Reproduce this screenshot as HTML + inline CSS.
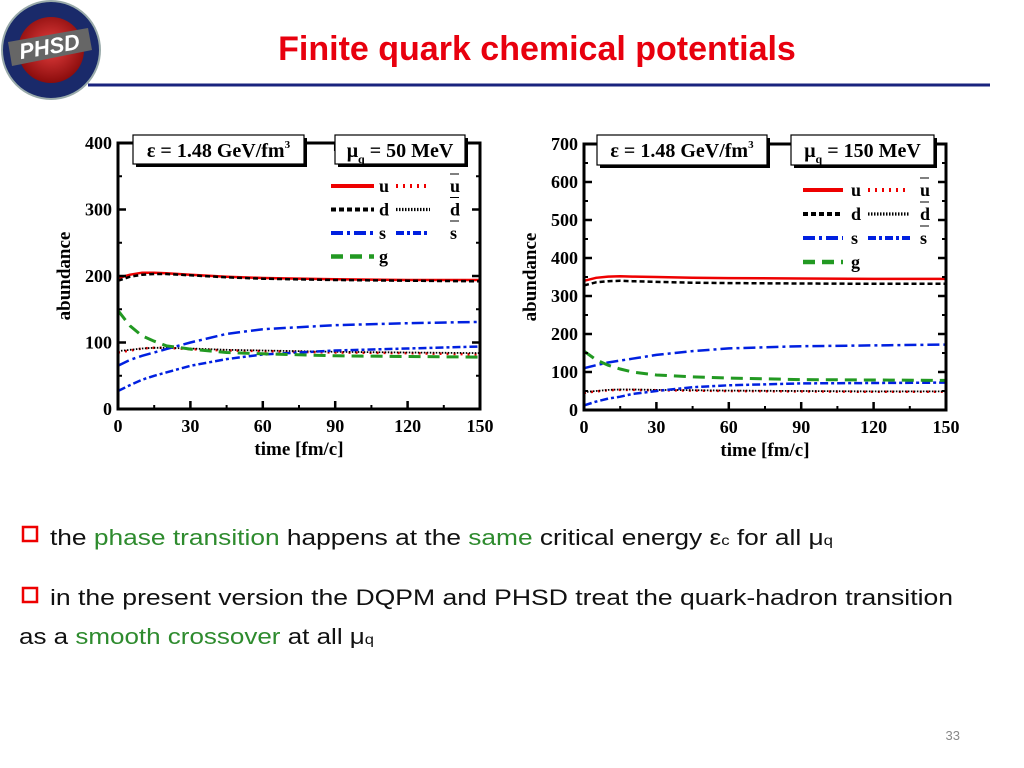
<!DOCTYPE html>
<html><head><meta charset="utf-8"><style>
html,body{margin:0;padding:0;background:#fff;}
svg{display:block;}
.tk{font-family:"Liberation Serif",serif;font-weight:bold;fill:#000;}
.bt{font-family:"Liberation Sans","DejaVu Sans",sans-serif;font-size:22px;fill:#111;}
</style></head><body>
<svg id="page" width="1024" height="768" viewBox="0 0 1024 768" xmlns="http://www.w3.org/2000/svg">
<defs>
<radialGradient id="lg" cx="0.5" cy="0.45" r="0.55"><stop offset="0" stop-color="#e84040"/><stop offset="1" stop-color="#8a0c0c"/></radialGradient>
</defs>
<g>
<circle cx="51" cy="50" r="49" fill="#1a2a6a" stroke="#9aa" stroke-width="2"/>
<circle cx="51" cy="50" r="33" fill="url(#lg)"/>
<polygon points="8,42 88,28 92,50 12,66" fill="#666"/>
<text x="50" y="54" text-anchor="middle" transform="rotate(-10 50 50)" font-family="Liberation Sans,sans-serif" font-weight="bold" font-style="italic" font-size="22" fill="#fff">PHSD</text>
</g>
<text x="537" y="60" text-anchor="middle" font-family="Liberation Sans,sans-serif" font-weight="bold" font-size="34" fill="#e8000e">Finite quark chemical potentials</text>
<line x1="88" y1="85" x2="990" y2="85" stroke="#1a237e" stroke-width="3"/>
<g id="c1"></g>
<g id="c2"></g>
<g>
<rect x="23" y="527" width="14" height="14" fill="#fff" stroke="#e00" stroke-width="2.5"/>
<text class="bt" x="50" y="545" textLength="783" lengthAdjust="spacingAndGlyphs">the <tspan fill="#2e8b2e">phase transition</tspan> happens at the <tspan fill="#2e8b2e">same</tspan> critical energy ε<tspan font-size="14">c</tspan> for all μ<tspan font-size="14">q</tspan></text>
</g>
<g>
<rect x="23" y="588" width="14" height="14" fill="#fff" stroke="#e00" stroke-width="2.5"/>
<text class="bt" x="50" y="605" textLength="903" lengthAdjust="spacingAndGlyphs">in the present version the DQPM and PHSD treat the quark-hadron transition</text>
<text class="bt" x="19" y="644" textLength="355" lengthAdjust="spacingAndGlyphs">as a <tspan fill="#2e8b2e">smooth crossover</tspan> at all μ<tspan font-size="14">q</tspan></text>
</g>
<text x="960" y="740" text-anchor="end" font-family="Liberation Sans,sans-serif" font-size="13" fill="#888">33</text>
</svg>
<script>
const times=[0,5,10,15,20,30,45,60,90,120,150];
const xTicks=[0,30,60,90,120,150];
const yTicks1=[0,100,200,300,400];
const yTicks2=[0,100,200,300,400,500,600,700];
const u1=[197,202,205,205,204,202,199,197,195,194,194];
const d1=[193,199,202,203,203,201,198,196,194,193,192];
const ub1=[85,88,91,92,92,90,88,87,85,84,82];
const db1=[87,89,91,92,92,91,89,88,86,85,84];
const s1=[65,74,80,85,90,100,113,120,126,129,131];
const sb1=[27,36,44,50,55,65,75,82,88,91,94];
const g1=[148,125,110,102,95,90,85,83,80,79,78];
const u2=[340,348,351,352,351,350,348,347,346,345,345];
const d2=[328,336,339,340,339,337,335,334,333,332,332];
const ub2=[45,49,52,53,53,52,51,50,49,48,48];
const db2=[47,50,53,54,54,53,52,51,50,49,49];
const s2=[110,118,125,130,135,145,155,162,168,170,172];
const sb2=[12,22,30,35,42,50,60,65,70,71,72];
const g2=[155,132,118,108,100,92,87,84,80,79,78];
const NS="http://www.w3.org/2000/svg";
function mk(p,tag,at){const e=document.createElementNS(NS,tag);for(const k in at)e.setAttribute(k,at[k]);p.appendChild(e);return e;}
function chart(gid,L,R,T,B,ymax,yTicks,S,box,leg,ylabX){
 const g=document.getElementById(gid);
 const X=v=>L+(R-L)*v/150, Y=v=>B-(B-T)*v/ymax;
 const styles=[
  {n:'u',d:S.u,c:'#e00',w:2.5,da:''},
  {n:'d',d:S.d,c:'#000',w:2.5,da:'5,3'},
  {n:'ubar',d:S.ub,c:'#e00',w:2.5,da:'2,5'},
  {n:'dbar',d:S.db,c:'#000',w:1.8,da:'1.5,1.5'},
  {n:'s',d:S.s,c:'#0020e0',w:2.5,da:'12,4,3,4'},
  {n:'sbar',d:S.sb,c:'#0020e0',w:2.5,da:'8,3,3,3'},
  {n:'g',d:S.g,c:'#229922',w:3,da:'12,7'}];
 for(const st of styles){
  const pts=times.map((t,i)=>X(t).toFixed(1)+','+Y(st.d[i]).toFixed(1)).join(' ');
  const pl=mk(g,'polyline',{points:pts,fill:'none',stroke:st.c,'stroke-width':st.w,'stroke-dasharray':st.da});
  
  
 }
 const fr=mk(g,'rect',{x:L,y:T,width:R-L,height:B-T,fill:'none',stroke:'#000','stroke-width':3});
 
 
 for(const t of xTicks){
  mk(g,'line',{x1:X(t),y1:B,x2:X(t),y2:B-8,stroke:'#000','stroke-width':2.5});
  mk(g,'line',{x1:X(t),y1:T,x2:X(t),y2:T+8,stroke:'#000','stroke-width':2.5});
  const tx=mk(g,'text',{x:X(t),y:B+23,'text-anchor':'middle',class:'tk',style:'font-size:18px'});tx.textContent=t;
  
  
 }
 for(let i=0;i<xTicks.length-1;i++){const m=X((xTicks[i]+xTicks[i+1])/2);
  mk(g,'line',{x1:m,y1:B,x2:m,y2:B-4,stroke:'#000','stroke-width':2});}
 for(const t of yTicks){
  mk(g,'line',{x1:L,y1:Y(t),x2:L+8,y2:Y(t),stroke:'#000','stroke-width':2.5});
  mk(g,'line',{x1:R,y1:Y(t),x2:R-8,y2:Y(t),stroke:'#000','stroke-width':2.5});
  const tx=mk(g,'text',{x:L-6,y:Y(t)+6,'text-anchor':'end',class:'tk',style:'font-size:18px'});tx.textContent=t;
  
  
 }
 for(let i=0;i<yTicks.length-1;i++){const m=Y((yTicks[i]+yTicks[i+1])/2);
  mk(g,'line',{x1:L,y1:m,x2:L+4,y2:m,stroke:'#000','stroke-width':2});
  mk(g,'line',{x1:R,y1:m,x2:R-4,y2:m,stroke:'#000','stroke-width':2});}
 const xt=mk(g,'text',{x:(L+R)/2,y:B+46,'text-anchor':'middle',class:'tk',style:'font-size:19px'});xt.textContent='time [fm/c]';
 
 
 const yt=mk(g,'text',{x:0,y:0,'text-anchor':'middle',class:'tk',style:'font-size:19px',transform:`translate(${ylabX},${(T+B)/2}) rotate(-90)`});yt.textContent='abundance';
 
 
 for(const b of box){
  mk(g,'rect',{x:b.x+3,y:b.y+3,width:b.w,height:b.h,fill:'#000'});
  const r=mk(g,'rect',{x:b.x,y:b.y,width:b.w,height:b.h,fill:'#fff',stroke:'#000','stroke-width':1.2});
  
  
  const tx=mk(g,'text',{x:b.x+b.w/2,y:b.y+22,'text-anchor':'middle',class:'tk',style:'font-size:20px'});
  tx.innerHTML=b.html;
 }
 const rows=[['u','ubar','u'],['d','dbar','d'],['s','sbar','s'],['g',null,'g']];
 rows.forEach((r,i)=>{
  const y=leg.y0+i*leg.dy;
  const a=styles.find(s=>s.n===r[0]);
  mk(g,'line',{x1:leg.x1,y1:y,x2:leg.x2,y2:y,stroke:a.c,'stroke-width':a.w+1.5,'stroke-dasharray':a.da});
  const t1=mk(g,'text',{x:leg.lx,y:y+6,class:'tk',style:'font-size:18px'});t1.textContent=r[2];
  
  
  if(r[1]){const b=styles.find(s=>s.n===r[1]);
   mk(g,'line',{x1:leg.x3,y1:y,x2:leg.x4,y2:y,stroke:b.c,'stroke-width':b.w+1.5,'stroke-dasharray':b.da});
   const t2=mk(g,'text',{x:leg.lx2,y:y+6,class:'tk',style:'font-size:18px'});t2.textContent=r[2];
   
   
   mk(g,'line',{x1:leg.lx2,y1:y-12,x2:leg.lx2+9,y2:y-12,stroke:'#000','stroke-width':1});}
 });
}
chart('c1',118,480,143,409,400,yTicks1,{u:u1,d:d1,ub:ub1,db:db1,s:s1,sb:sb1,g:g1},
 [{x:133,y:135,w:171,h:29,name:'energy-density-box',html:'ε = 1.48 GeV/fm<tspan dy="-9" style="font-size:11px">3</tspan>'},
  {x:335,y:135,w:130,h:29,name:'mu-box',html:'μ<tspan dy="6" style="font-size:12px">q</tspan><tspan dy="-6"> = 50 MeV</tspan>'}],
 {y0:186,dy:23.5,x1:331,x2:374,lx:379,x3:396,x4:430,lx2:450},70);
chart('c2',584,946,144,410,700,yTicks2,{u:u2,d:d2,ub:ub2,db:db2,s:s2,sb:sb2,g:g2},
 [{x:597,y:135,w:170,h:30,name:'energy-density-box',html:'ε = 1.48 GeV/fm<tspan dy="-9" style="font-size:11px">3</tspan>'},
  {x:791,y:135,w:143,h:30,name:'mu-box',html:'μ<tspan dy="6" style="font-size:12px">q</tspan><tspan dy="-6"> = 150 MeV</tspan>'}],
 {y0:190,dy:24,x1:803,x2:843,lx:851,x3:868,x4:910,lx2:920},536);
</script>
</body></html>
